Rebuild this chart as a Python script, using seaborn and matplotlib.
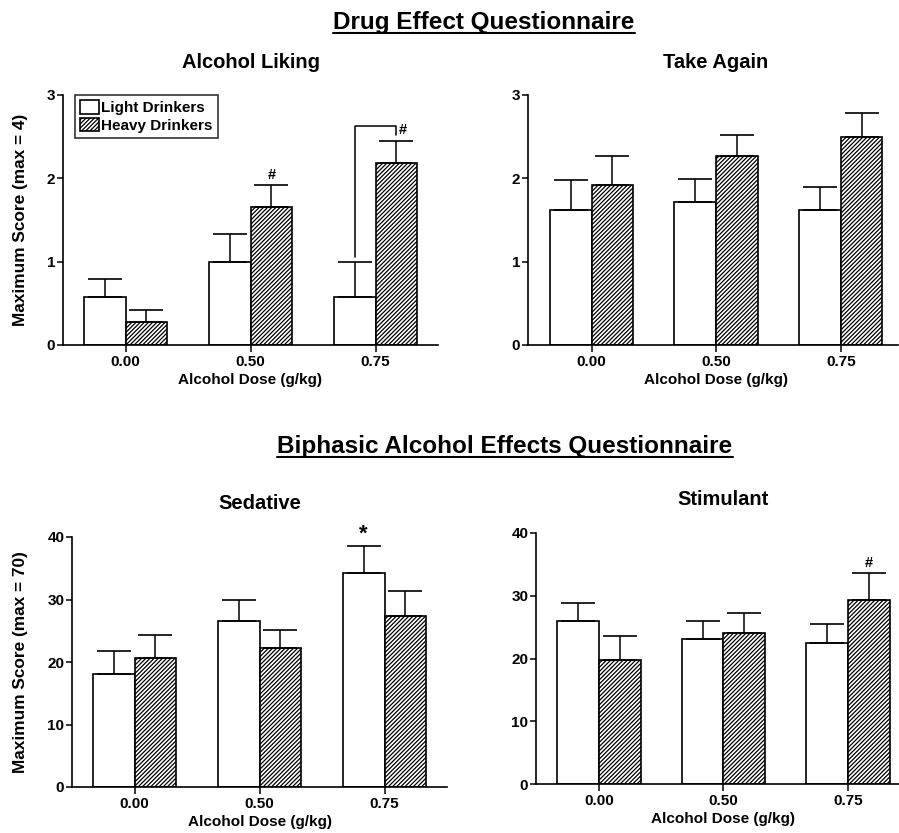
import numpy as np
import pandas as pd
import matplotlib
matplotlib.use("Agg")
import matplotlib.pyplot as plt
from matplotlib.lines import Line2D
from matplotlib.patches import Patch
import seaborn as sns

# ---- data -------------------------------------------------------------
doses = ["0.00", "0.50", "0.75"]
groups = ["Light Drinkers", "Heavy Drinkers"]

liking_light = [0.58, 1.00, 0.57]
liking_light_sem = [0.21, 0.33, 0.43]
liking_heavy = [0.27, 1.66, 2.18]
liking_heavy_sem = [0.15, 0.26, 0.27]

again_light = [1.62, 1.71, 1.62]
again_light_sem = [0.36, 0.28, 0.28]
again_heavy = [1.92, 2.27, 2.49]
again_heavy_sem = [0.35, 0.25, 0.30]

sedative_light = [18.1, 26.5, 34.3]
sedative_light_sem = [3.7, 3.5, 4.2]
sedative_heavy = [20.7, 22.2, 27.4]
sedative_heavy_sem = [3.7, 3.0, 3.9]

stimulant_light = [26.0, 23.1, 22.4]
stimulant_light_sem = [2.9, 2.9, 3.1]
stimulant_heavy = [19.7, 24.1, 29.4]
stimulant_heavy_sem = [3.9, 3.2, 4.3]

yticks_deq = [0, 1, 2, 3]
yticks_baes = [0, 10, 20, 30, 40]

# ---- style ------------------------------------------------------------
sns.set_style("ticks")
plt.rcParams["font.family"] = ["Liberation Sans", "DejaVu Sans"]
plt.rcParams["font.weight"] = "bold"
plt.rcParams["axes.labelweight"] = "bold"
plt.rcParams["text.color"] = "black"
plt.rcParams["axes.labelcolor"] = "black"
plt.rcParams["hatch.linewidth"] = 0.9
plt.rcParams["hatch.color"] = "black"

HATCH = "////////"

W, H = 899, 833
fig = plt.figure(figsize=(W / 100, H / 100), dpi=100)
fig.patch.set_facecolor("white")


def rect(left, top, right, bottom):
    return [left / W, 1 - bottom / H, (right - left) / W, (bottom - top) / H]


def panel(box, xlim, light, light_sem, heavy, heavy_sem, yticks, title,
          ylabel=None):
    ax = fig.add_axes(rect(*box))
    df = pd.DataFrame({
        "dose": doses * 2,
        "score": list(light) + list(heavy),
        "group": [groups[0]] * 3 + [groups[1]] * 3,
    })
    sns.barplot(data=df, x="dose", y="score", hue="group", order=doses,
                hue_order=groups, palette=["white", "white"],
                edgecolor="black", linewidth=1.2, width=0.67,
                errorbar=None, legend=False, ax=ax, zorder=2)
    for bar in ax.containers[1]:
        bar.set_hatch(HATCH)
    # upward-only SEM bars on top of each bar
    for cont, sem in zip(ax.containers, [light_sem, heavy_sem]):
        xs = [b.get_x() + b.get_width() / 2 for b in cont]
        ys = [b.get_height() for b in cont]
        ax.errorbar(xs, ys, yerr=[np.zeros(len(sem)), sem], fmt="none",
                    ecolor="black", elinewidth=1.1, capsize=12,
                    capthick=1.2, zorder=3)
    ax.set_xlim(*xlim)
    ax.set_ylim(yticks[0], yticks[-1])
    ax.set_yticks(yticks)
    ax.set_yticklabels([str(t) for t in yticks])
    sns.despine(ax=ax)
    for s in ("left", "bottom"):
        ax.spines[s].set_linewidth(1.2)
        ax.spines[s].set_color("black")
    ax.tick_params(axis="y", length=4, width=1.1, pad=1.5, labelsize=11,
                   colors="black")
    ax.tick_params(axis="x", length=5, width=1.1, pad=2.5, labelsize=11,
                   colors="black")
    for lab in ax.get_xticklabels() + ax.get_yticklabels():
        lab.set_fontweight("bold")
    mid = (1 - xlim[0]) / (xlim[1] - xlim[0])
    ax.set_xlabel("Alcohol Dose (g/kg)", fontsize=11, fontweight="bold")
    ax.xaxis.set_label_coords(mid, -0.112)
    if ylabel:
        ax.set_ylabel(ylabel, fontsize=12.4, fontweight="bold")
        ax.yaxis.set_label_coords(-(box[0] - 28) / (box[2] - box[0]), 0.5)
    else:
        ax.set_ylabel("")
    ax.text(mid, 1.0 + 33 / 250, title, transform=ax.transAxes,
            ha="center", va="center", fontsize=14.5, fontweight="bold")
    return ax


def tops(ax, idx, sem):
    cont = ax.containers[idx]
    return ([b.get_x() + b.get_width() / 2 for b in cont],
            [b.get_height() + s for b, s in zip(cont, sem)])


ax1 = panel((63, 95, 438, 345), (-0.5, 2.5), liking_light, liking_light_sem,
            liking_heavy, liking_heavy_sem, yticks_deq, "Alcohol Liking",
            "Maximum Score (max = 4)")
ax2 = panel((528, 95, 898, 345), (-0.51, 2.46), again_light, again_light_sem,
            again_heavy, again_heavy_sem, yticks_deq, "Take Again")
ax3 = panel((72, 537, 447, 787), (-0.5, 2.5), sedative_light,
            sedative_light_sem, sedative_heavy, sedative_heavy_sem,
            yticks_baes, "Sedative", "Maximum Score (max = 70)")
ax4 = panel((536, 533, 899, 784), (-0.506, 2.41), stimulant_light,
            stimulant_light_sem, stimulant_heavy, stimulant_heavy_sem,
            yticks_baes, "Stimulant")

# legend
handles = [Patch(facecolor="white", edgecolor="black", linewidth=1.2),
           Patch(facecolor="white", edgecolor="black", linewidth=1.2,
                 hatch=HATCH)]
leg = ax1.legend(handles, groups, loc="upper left",
                 bbox_to_anchor=(12 / 375, 1.0), borderaxespad=0,
                 frameon=True, fancybox=False, prop={"size": 11,
                                                     "weight": "bold"},
                 handlelength=1.25, handleheight=0.95, handletextpad=0.1,
                 borderpad=0.35, labelspacing=0.2)
leg.get_frame().set_edgecolor("black")
leg.get_frame().set_linewidth(1.2)

# significance markers
hx, hy = tops(ax1, 1, liking_heavy_sem)
lx, ly = tops(ax1, 0, liking_light_sem)
ax1.text(hx[1], hy[1] + 0.04, "#", ha="center", va="bottom", fontsize=10.5,
         fontweight="bold")
bracket_top = 2.63
ax1.plot([lx[2], lx[2], hx[2], hx[2]],
         [ly[2] + 0.06, bracket_top, bracket_top, hy[2] + 0.07],
         color="black", lw=1.1, zorder=3)
ax1.text(hx[2] + 0.02, hy[2] + 0.04, "#", ha="left", va="bottom",
         fontsize=10.5, fontweight="bold")

sx, sy = tops(ax3, 0, sedative_light_sem)
ax3.text(sx[2], sy[2] + 0.2, "*", ha="center", va="bottom", fontsize=16,
         fontweight="bold")

tx, ty = tops(ax4, 1, stimulant_heavy_sem)
ax4.text(tx[2], ty[2] + 0.4, "#", ha="center", va="bottom", fontsize=10.5,
         fontweight="bold")

# underlined section headings
fig.canvas.draw()
renderer = fig.canvas.get_renderer()


def heading(text, cx, baseline):
    t = fig.text(cx / W, 1 - baseline / H, text, ha="center", va="baseline",
                 fontsize=17.5, fontweight="bold")
    bb = t.get_window_extent(renderer=renderer)
    y = (H - baseline - 3.5) / H
    fig.add_artist(Line2D([bb.x0 / W, bb.x1 / W], [y, y],
                          transform=fig.transFigure, color="black", lw=1.5))


heading("Drug Effect Questionnaire", 484, 29)
heading("Biphasic Alcohol Effects Questionnaire", 505, 453)

fig.savefig("out.png", dpi=100, facecolor="white")
